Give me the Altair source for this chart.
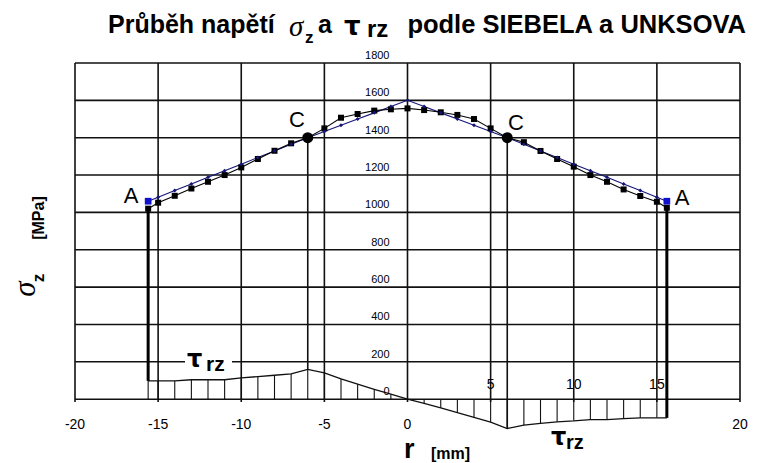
import altair as alt
import pandas as pd

# ---------------- data ----------------
R = [-15.6, -15, -14, -13, -12, -11, -10, -9, -8, -7, -6, -5, -4, -3, -2, -1, 0,
     1, 2, 3, 4, 5, 6, 7, 8, 9, 10, 11, 12, 13, 14, 15, 15.6]
SIGMA_BLACK = [1020, 1052, 1089, 1128, 1164, 1200, 1241, 1286, 1330, 1370, 1400, 1450, 1507, 1527, 1545, 1552, 1557,
               1548, 1536, 1522, 1500, 1450, 1400, 1376, 1329, 1286, 1245, 1200, 1164, 1123, 1088, 1057, 1025]
SIGMA_BLUE = [1060, 1081, 1117, 1152, 1188, 1223, 1258, 1294, 1329, 1365, 1400, 1433, 1467, 1500, 1533, 1567, 1600,
              1567, 1533, 1500, 1467, 1433, 1400, 1365, 1329, 1294, 1258, 1223, 1188, 1152, 1117, 1081, 1060]
TAU = [98, 98, 98, 104, 104, 104, 114, 121, 128, 136, 159, 141, 109, 80, 53, 27, 0,
       -22, -47, -72, -98, -123, -157, -139, -130, -121, -116, -109, -109, -104, -100, -100, -100]
R_A = [-15.6, 15.6]
R_C = [-6, 6]
GRID_X = [-20, -15, -10, -5, 0, 5, 10, 15, 20]
GRID_Y = [0, 200, 400, 600, 800, 1000, 1200, 1400, 1600, 1800]
XLAB_BELOW = [-20, -15, -10, -5, 0, 20]
XLAB_ABOVE = [5, 10, 15]
YLAB = [0, 200, 400, 600, 800, 1000, 1200, 1400, 1600, 1800]

# ---------------- tables ----------------
df = pd.DataFrame({"r": R, "s_black": SIGMA_BLACK, "s_blue": SIGMA_BLUE, "tau": TAU, "zero": 0})
dfA = df[df["r"].isin(R_A)]
dfC = df[df["r"].isin(R_C)]
dfH = df[df["r"] != 0]
gx = pd.DataFrame({"r": GRID_X, "lo": -15, "hi": 1800})
gy = pd.DataFrame({"s": GRID_Y, "a": -20, "b": 20})
xb = pd.DataFrame({"r": XLAB_BELOW, "s": 0, "t": [str(v) for v in XLAB_BELOW]})
xa = pd.DataFrame({"r": XLAB_ABOVE, "s": 0, "t": [str(v) for v in XLAB_ABOVE]})
yl = pd.DataFrame({"r": 0, "s": YLAB, "t": [str(v) for v in YLAB]})

XS = alt.Scale(domain=[-20, 20], nice=False, zero=False)
YS = alt.Scale(domain=[-240, 1800], nice=False, zero=False)


def X(f):
    return alt.X(f, type="quantitative", scale=XS, axis=None)


def Y(f):
    return alt.Y(f, type="quantitative", scale=YS, axis=None)


INK = "#111111"
NAVY = "#14147a"
BLUE = "#1010d0"

hgrid = alt.Chart(gy).mark_rule(color=INK, strokeWidth=1.6).encode(x=X("a"), x2="b", y=Y("s"))
vgrid = alt.Chart(gx).mark_rule(color=INK, strokeWidth=1.6).encode(x=X("r"), y=Y("lo"), y2="hi")

hatch = alt.Chart(dfH).mark_rule(color=INK, strokeWidth=1.1).encode(x=X("r"), y=Y("zero"), y2="tau")
tau_line = alt.Chart(df).mark_line(color=INK, strokeWidth=1.3).encode(x=X("r"), y=Y("tau"))
a_lines = alt.Chart(dfA).mark_rule(color="black", strokeWidth=3).encode(x=X("r"), y=Y("tau"), y2="s_black")
c_lines = alt.Chart(dfC).mark_rule(color=INK, strokeWidth=1.6).encode(x=X("r"), y=Y("tau"), y2="s_black")

blue_line = alt.Chart(df).mark_line(color=NAVY, strokeWidth=1.1).encode(x=X("r"), y=Y("s_blue"))
blue_pts = alt.Chart(df).mark_point(shape="diamond", filled=True, color=NAVY, size=16, opacity=1).encode(
    x=X("r"), y=Y("s_blue"))
black_line = alt.Chart(df).mark_line(color="black", strokeWidth=1.1).encode(x=X("r"), y=Y("s_black"))
black_pts = alt.Chart(df).mark_point(shape="square", filled=True, color="black", size=36, opacity=1).encode(
    x=X("r"), y=Y("s_black"))
c_pts = alt.Chart(dfC).mark_point(shape="circle", filled=True, color="black", size=120, opacity=1).encode(
    x=X("r"), y=Y("s_black"))
a_pts = alt.Chart(dfA).mark_point(shape="square", filled=True, color=BLUE, size=45, opacity=1).encode(
    x=X("r"), y=Y("s_blue"))

FONT = "Liberation Sans"
ylabels = alt.Chart(yl).mark_text(font=FONT, fontSize=11, align="right", baseline="bottom", dx=-18, dy=-2,
                                  color="black").encode(x=X("r"), y=Y("s"), text="t:N")
xlab_b = alt.Chart(xb).mark_text(font=FONT, fontSize=14, align="center", baseline="top", dy=19,
                                 color="black").encode(x=X("r"), y=Y("s"), text="t:N")
xlab_a = alt.Chart(xa).mark_text(font=FONT, fontSize=14, align="center", baseline="bottom", dy=-7,
                                 color="black").encode(x=X("r"), y=Y("s"), text="t:N")

OX, OY = 75, 63  # plot-area origin on the page


def txt(s, px, py, size, bold=True, italic=False, font=FONT, align="left", baseline="alphabetic", angle=0):
    kw = dict(text=s, font=font, fontSize=size, align=align, baseline=baseline, color="black",
              fontWeight="bold" if bold else "normal")
    if italic:
        kw["fontStyle"] = "italic"
    if angle:
        kw["angle"] = angle
    return alt.Chart(pd.DataFrame({"k": [0]})).mark_text(**kw).encode(
        x=alt.value(px - OX), y=alt.value(py - OY))


white_box = alt.Chart(pd.DataFrame({"k": [0]})).mark_rect(color="white").encode(
    x=alt.value(185 - OX), x2=alt.value(232 - OX), y=alt.value(350 - OY), y2=alt.value(374 - OY))

TAU_FONT = "DejaVu Sans"
texts = [
    txt("Průběh napětí", 108, 33, 25),
    txt("σ", 289, 36, 29, bold=False, italic=True, font="Liberation Serif"),
    txt("z", 305, 43, 17),
    txt("a", 318, 33, 25),
    txt("τ", 344, 35, 26, font=TAU_FONT),
    txt("rz", 367, 37, 24),
    txt("podle SIEBELA a UNKSOVA", 746, 33, 25.5, align="right"),
    txt("A", 131, 203, 22, bold=False, align="center"),
    txt("A", 682, 205, 22, bold=False, align="center"),
    txt("C", 297, 127, 22, bold=False, align="center"),
    txt("C", 516, 130, 22, bold=False, align="center"),
    txt("τ", 187, 367, 24, font=TAU_FONT),
    txt("rz", 206, 371, 21),
    txt("τ", 551, 445, 24, font=TAU_FONT),
    txt("rz", 566, 449, 20),
    txt("r", 404, 458, 27),
    txt("[mm]", 431, 459, 16),
    txt("σ", 26, 289, 31, bold=False, italic=True, font="Liberation Serif", align="center", baseline="middle",
        angle=270),
    txt("z", 39, 278, 17, align="center", baseline="middle", angle=270),
    txt("[MPa]", 39, 218, 16, align="center", baseline="middle", angle=270),
]

chart = alt.layer(
    hgrid, vgrid, hatch, tau_line, c_lines, a_lines, white_box,
    blue_line, black_line, black_pts, blue_pts, c_pts, a_pts,
    ylabels, xlab_b, xlab_a, *texts
).properties(
    width=665, height=381,
    padding={"left": 67, "top": 55, "right": 10, "bottom": 19},
    autosize=alt.AutoSizeParams(type="none"),
).configure_view(stroke=None)

chart.save("out.html", embed_options={"renderer": "svg", "actions": False})
